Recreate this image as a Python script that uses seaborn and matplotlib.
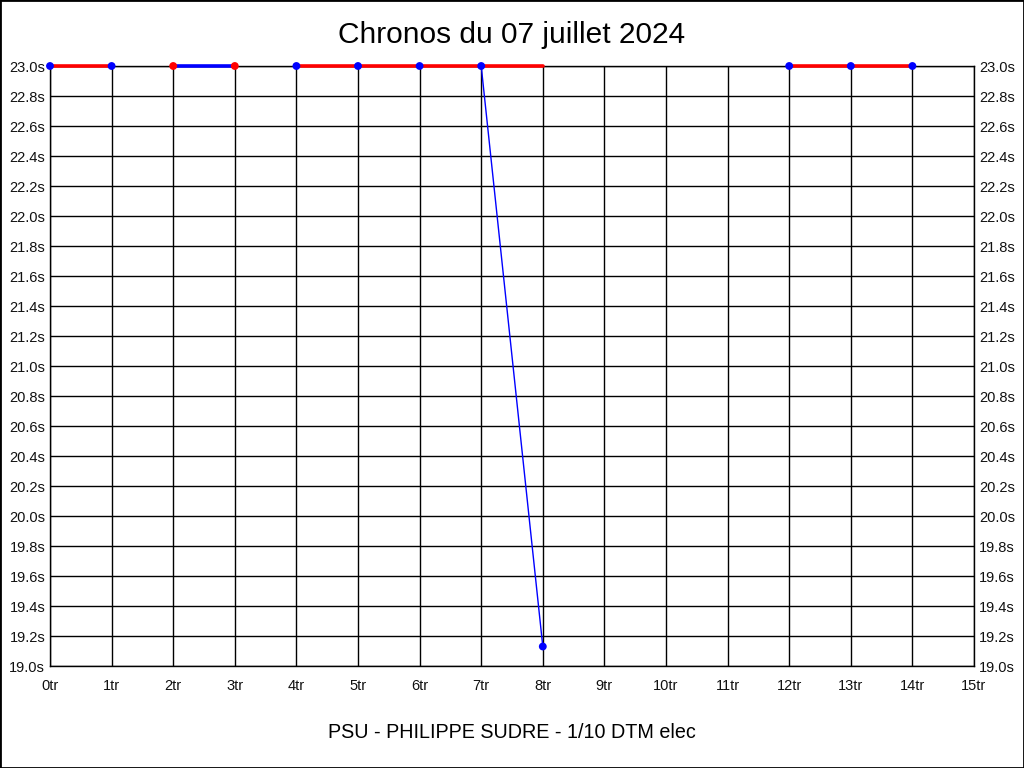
import numpy as np
import pandas as pd
import seaborn as sns
import matplotlib.pyplot as plt
from matplotlib.patches import Rectangle

# lap data (times above 23.0s are shown clipped on the top line)
laps = [0, 1, 2, 3, 4, 5, 6, 7, 8, 12, 13, 14]
times = [23.0, 23.0, 23.0, 23.0, 23.0, 23.0, 23.0, 23.0, 19.13, 23.0, 23.0, 23.0]
point_colors = ['blue', 'blue', 'red', 'red', 'blue', 'blue', 'blue', 'blue',
                'blue', 'blue', 'blue', 'blue']

# thick segments along the top line: start lap -> start lap + 1
seg_start = [0, 2, 4, 5, 6, 7, 12, 13]
seg_color = ['red', 'blue', 'red', 'red', 'red', 'red', 'red', 'red']
top_time = 23.0

# the only real drop: lap 7 -> lap 8
drop_laps = [7, 8]
drop_times = [23.0, 19.13]

title = 'Chronos du 07 juillet 2024'
footer = 'PSU - PHILIPPE SUDRE - 1/10 DTM elec'

sns.set_style('white')
plt.rcParams['font.family'] = ['Liberation Sans', 'DejaVu Sans']

fig = plt.figure(figsize=(10.24, 7.68), dpi=100)
ax = fig.add_axes([50 / 1024, 102 / 768, 924 / 1024, 600 / 768])

# segments table for seaborn
rows = []
for i, (s, c) in enumerate(zip(seg_start, seg_color)):
    rows.append({'seg': i, 'lap': s, 'time': top_time, 'col': c})
    rows.append({'seg': i, 'lap': s + 1, 'time': top_time, 'col': c})
segs = pd.DataFrame(rows)

pal = {'red': '#ff0000', 'blue': '#0000ff'}

sns.lineplot(data=segs, x='lap', y='time', hue='col', units='seg', estimator=None,
             palette=pal, linewidth=2.6, legend=False, ax=ax, zorder=3,
             clip_on=False)

sns.lineplot(x=drop_laps, y=drop_times, color='#0000ff', linewidth=1.0,
             ax=ax, zorder=3, clip_on=False)

pts = pd.DataFrame({'lap': laps, 'time': times, 'col': point_colors})
sns.scatterplot(data=pts, x='lap', y='time', hue='col', palette=pal, s=32,
                edgecolor='none', legend=False, ax=ax, zorder=4, clip_on=False)

ax.set_xlim(0, 15)
ax.set_ylim(19.0, 23.0)
xt = np.arange(0, 16)
yt = np.round(np.arange(19.0, 23.01, 0.2), 1)
ax.set_xticks(xt)
ax.set_xticklabels([f'{v}tr' for v in xt])
ax.set_yticks(yt)
ax.set_yticklabels([f'{v:.1f}s' for v in yt])
ax.tick_params(axis='y', length=0, pad=3.5, labelsize=10.5, labelright=True,
               colors='#111111')
ax.tick_params(axis='x', length=0, pad=9, labelsize=10.5, colors='#111111')
ax.grid(True, color='black', linewidth=1.0)
ax.set_axisbelow(True)
for sp in ax.spines.values():
    sp.set_color('black')
    sp.set_linewidth(1.0)
ax.set_xlabel('')
ax.set_ylabel('')

fig.text(0.5, 1 - 35 / 768, title, ha='center', va='center', fontsize=21.5,
         color='black')
fig.text(0.5, 1 - 733 / 768, footer, ha='center', va='center', fontsize=14.2,
         color='black')

fig.patches.append(Rectangle((0, 0), 1, 1, transform=fig.transFigure,
                             fill=False, edgecolor='black', linewidth=2))

fig.savefig('out.png', dpi=100)
